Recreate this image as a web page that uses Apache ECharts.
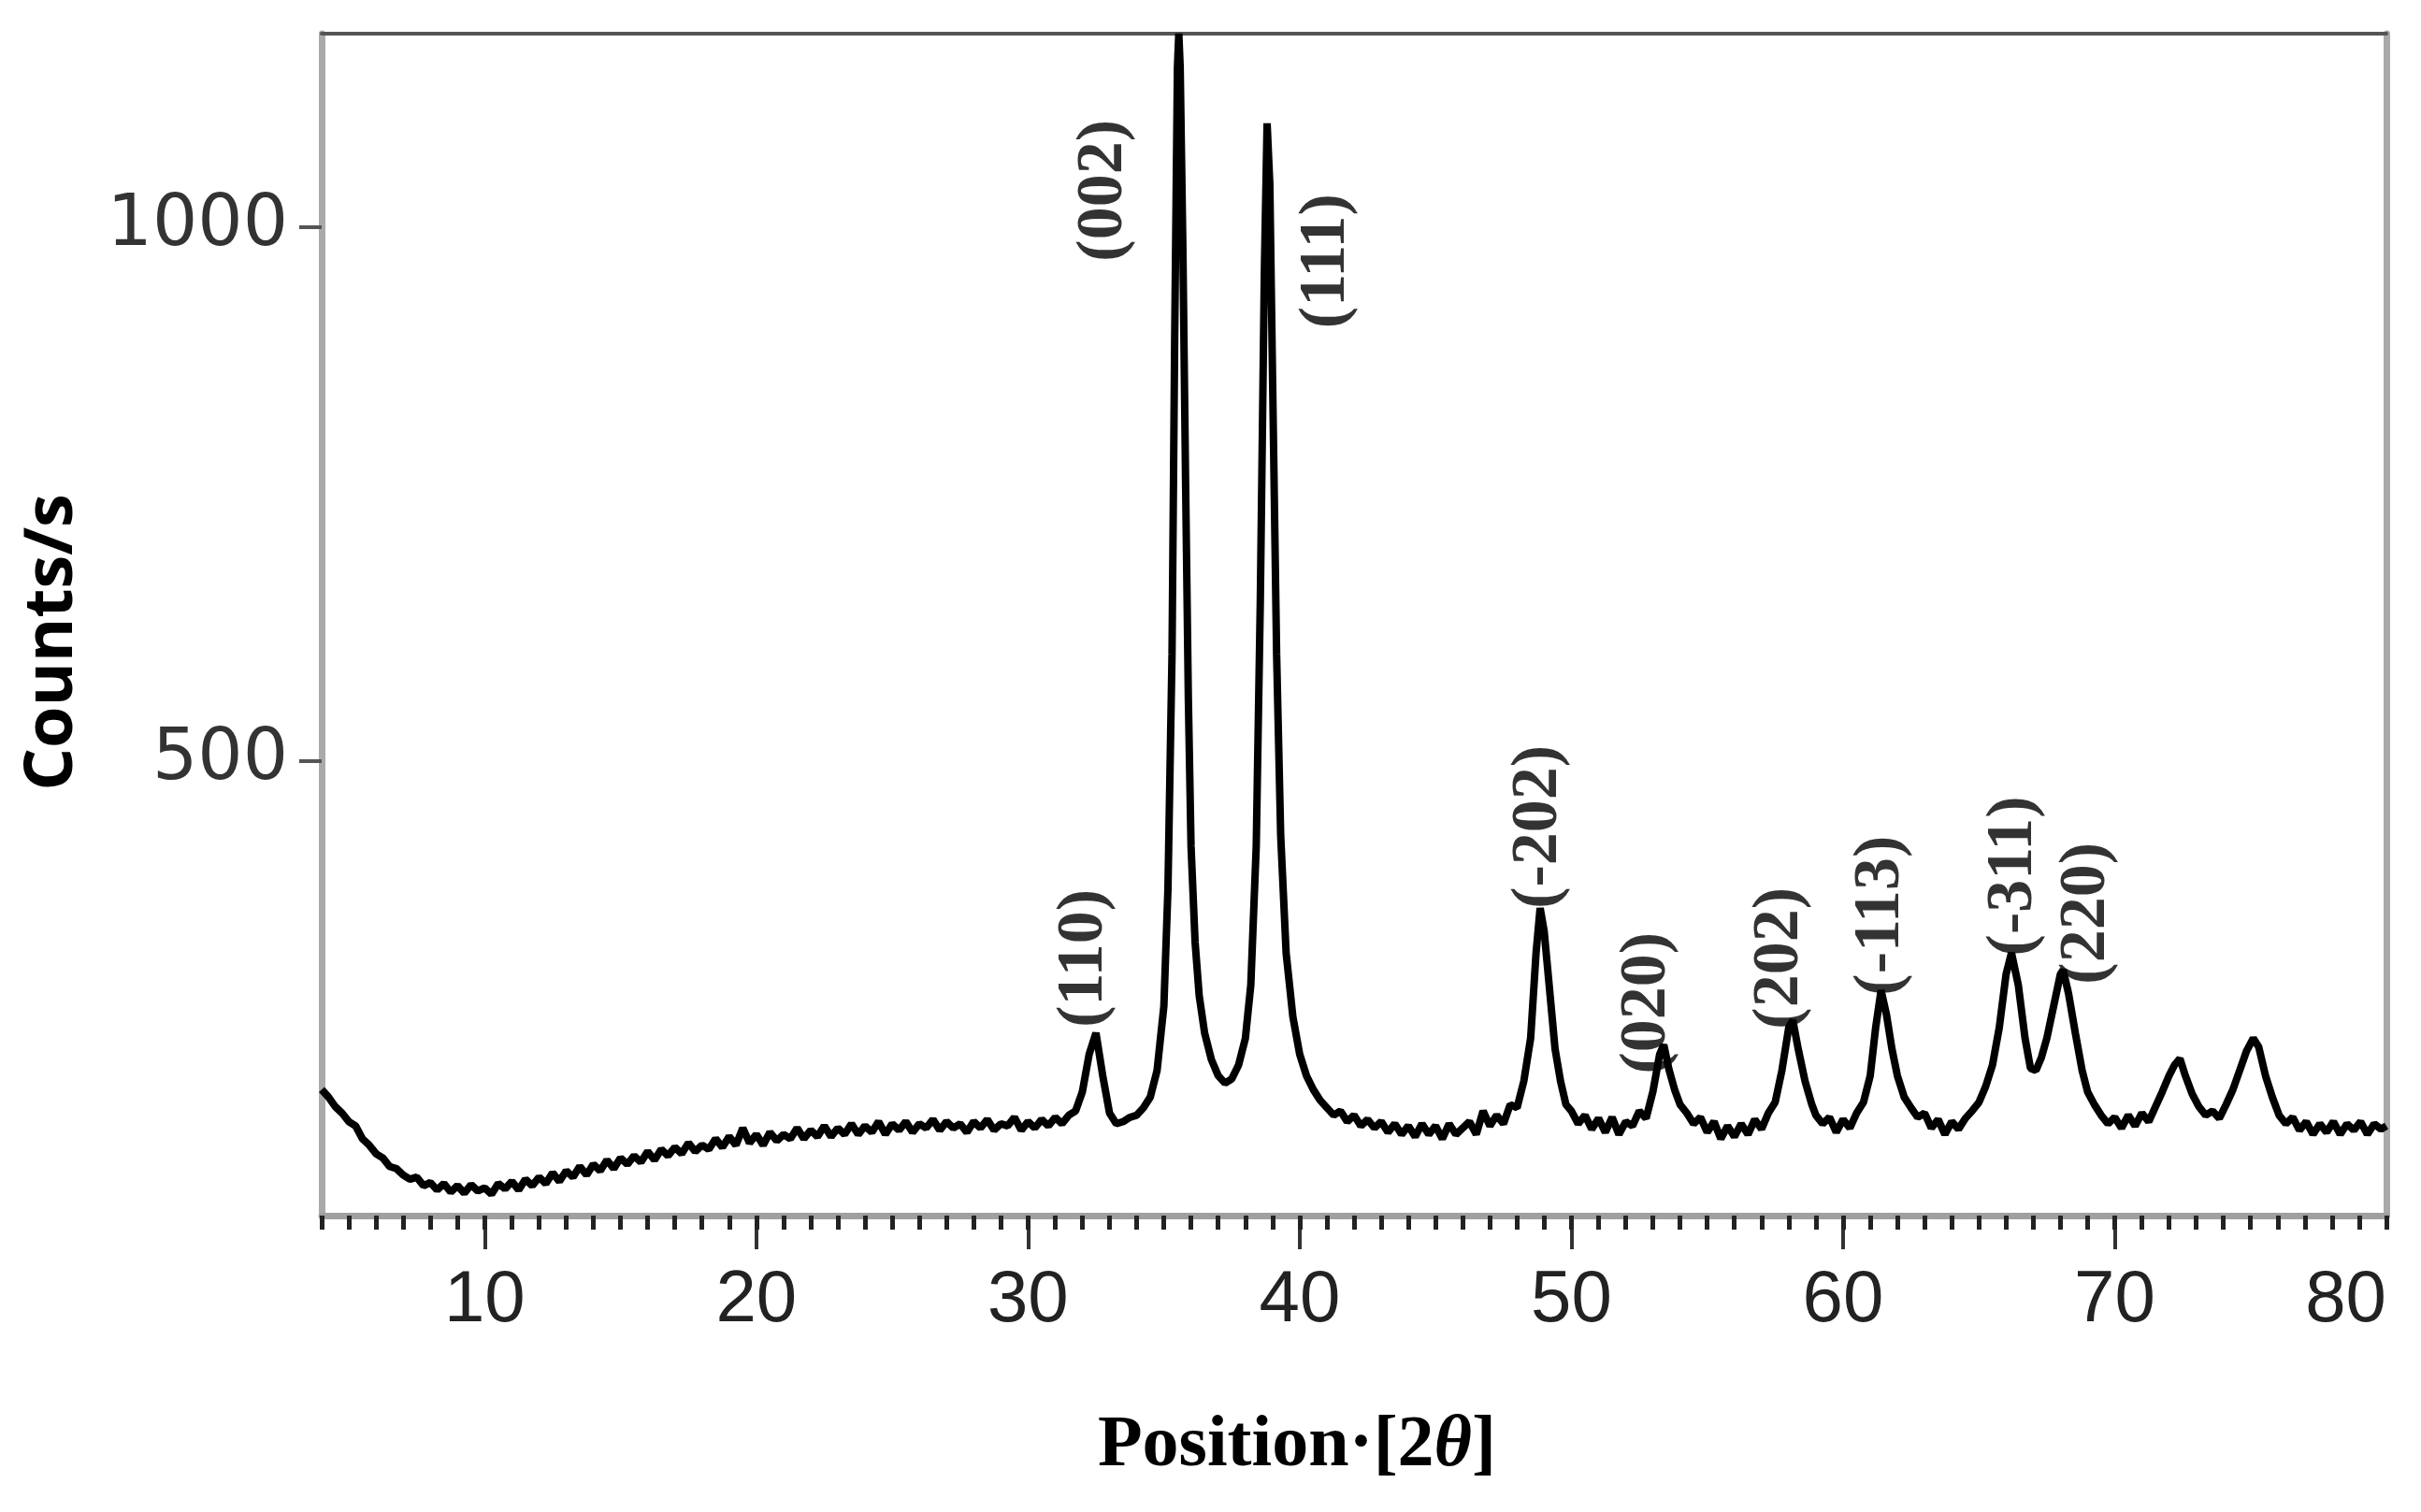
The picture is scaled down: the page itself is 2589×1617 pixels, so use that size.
<!DOCTYPE html>
<html><head><meta charset="utf-8">
<script src="https://cdn.jsdelivr.net/npm/echarts@6/dist/echarts.min.js"></script>
<style>html,body{margin:0;padding:0;background:#fff}#c{width:2589px;height:1617px}</style>
</head><body><div id="c"></div>
<script>
var xTicks = [10,20,30,40,50,60,70];
var xLabels = [10,20,30,40,50,60,70,80];
var yTicks = [500,1000];
var pattern = [
[4.00,192],[4.25,185],[4.5,176],[4.75,170],[5.0,162],[5.25,158],[5.5,146],[5.75,140],[6.0,132],[6.25,128],[6.5,120],[6.75,118],[7.0,112],[7.25,108],[7.5,110],[7.75,102],[8.0,105],[8.25,98],[8.5,104],[8.75,96],[9.0,102],[9.25,95],[9.5,103],[9.75,97],[10.0,100],[10.25,94],[10.5,104],[10.75,99],[11.0,106],[11.25,98],[11.5,108],[11.75,102],[12.0,110],[12.25,104],[12.5,114],[12.75,106],[13.0,116],[13.25,110],[13.5,120],[13.75,112],[14.0,122],[14.25,116],[14.5,126],[14.75,118],[15.0,128],[15.25,122],[15.5,130],[15.75,124],[16.0,134],[16.25,126],[16.5,136],[16.75,130],[17.0,138],[17.25,132],[17.5,142],[17.75,134],[18.0,140],[18.25,136],[18.5,146],[18.75,138],[19.0,148],[19.25,140],[19.5,156],[19.75,142],[20.0,150],[20.25,140],[20.5,152],[20.75,144],[21.0,150],[21.25,146],[21.5,156],[21.75,146],[22.0,154],[22.25,148],[22.5,158],[22.75,148],[23.0,156],[23.25,150],[23.5,160],[23.75,150],[24.0,158],[24.25,152],[24.5,162],[24.75,150],[25.0,160],[25.25,154],[25.5,162],[25.75,152],[26.0,160],[26.25,156],[26.5,164],[26.75,154],[27.0,162],[27.25,156],[27.5,160],[27.75,152],[28.0,162],[28.25,156],[28.5,164],[28.75,154],[29.0,160],[29.25,158],[29.5,166],[29.75,154],[30.0,162],[30.25,156],[30.5,164],[30.75,158],[31.0,166],[31.25,160],[31.5,168],[31.75,172],[32.0,190],[32.25,225],[32.5,245],[32.75,205],[33.0,170],[33.25,160],[33.5,162],[33.75,166],[34.0,168],[34.25,175],[34.5,185],[34.75,210],[35.0,270],[35.15,380],[35.3,600],[35.4,900],[35.5,1150],[35.55,1181],[35.6,1150],[35.7,980],[35.8,760],[35.9,560],[36.0,420],[36.15,330],[36.3,280],[36.5,245],[36.75,220],[37.0,205],[37.25,198],[37.5,202],[37.75,215],[38.0,240],[38.2,290],[38.4,420],[38.55,650],[38.7,960],[38.8,1097],[38.9,1040],[39.0,860],[39.15,600],[39.3,430],[39.5,320],[39.75,260],[40.0,225],[40.25,205],[40.5,192],[40.75,182],[41.0,175],[41.25,168],[41.5,172],[41.75,162],[42.0,168],[42.25,158],[42.5,164],[42.75,156],[43.0,162],[43.25,152],[43.5,160],[43.75,150],[44.0,158],[44.25,148],[44.5,160],[44.75,150],[45.0,158],[45.25,146],[45.5,160],[45.75,150],[46.0,156],[46.25,162],[46.5,150],[46.75,172],[47.0,158],[47.25,168],[47.5,160],[47.75,178],[48.0,175],[48.25,200],[48.5,240],[48.7,320],[48.85,362],[49.0,340],[49.2,285],[49.4,230],[49.6,200],[49.8,178],[50.0,172],[50.25,160],[50.5,168],[50.75,155],[51.0,165],[51.25,152],[51.5,166],[51.75,150],[52.0,162],[52.25,158],[52.5,172],[52.75,165],[53.0,190],[53.25,225],[53.4,234],[53.6,210],[53.8,192],[54.0,178],[54.25,170],[54.5,160],[54.75,166],[55.0,152],[55.25,162],[55.5,146],[55.75,158],[56.0,148],[56.25,160],[56.5,150],[56.75,164],[57.0,155],[57.25,170],[57.5,180],[57.75,210],[58.0,250],[58.15,257],[58.35,230],[58.6,200],[58.85,178],[59.0,168],[59.25,160],[59.5,166],[59.75,152],[60.0,164],[60.25,156],[60.5,170],[60.75,180],[61.0,205],[61.2,250],[61.4,285],[61.6,262],[61.8,230],[62.0,205],[62.25,185],[62.5,175],[62.75,166],[63.0,170],[63.25,156],[63.5,164],[63.75,150],[64.0,162],[64.25,155],[64.5,165],[64.75,172],[65.0,180],[65.25,195],[65.5,215],[65.75,250],[66.0,300],[66.2,320],[66.45,290],[66.7,240],[66.9,212],[67.1,210],[67.3,222],[67.5,240],[67.75,270],[68.0,300],[68.1,304],[68.3,282],[68.55,245],[68.8,210],[69.0,190],[69.25,178],[69.5,168],[69.75,160],[70.0,166],[70.25,156],[70.5,168],[70.75,158],[71.0,170],[71.25,162],[71.5,176],[71.75,190],[72.0,205],[72.2,215],[72.4,221],[72.6,205],[72.85,188],[73.1,176],[73.35,168],[73.6,172],[73.85,165],[74.1,178],[74.35,192],[74.6,210],[74.85,228],[75.1,240],[75.3,232],[75.55,205],[75.8,185],[76.05,168],[76.3,160],[76.55,166],[76.8,154],[77.05,162],[77.3,150],[77.55,160],[77.8,152],[78.05,162],[78.3,150],[78.55,160],[78.8,154],[79.05,162],[79.3,150],[79.55,160],[79.8,155],[80.0,158]
];
var peakNames = ['(002)','(111)','(110)','(-202)','(020)','(202)','(-113)','(-311)','(220)'];
var peakX = [32.8,41.0,32.1,48.8,52.8,57.7,61.4,66.3,69.0];
var peakY = [1034,968,315,438,273,315,355,392,357];

var chart = echarts.init(document.getElementById('c'));
chart.setOption({
  animation:false,
  backgroundColor:'#fff',
  grid:{left:344, right:37, top:36, bottom:317},
  xAxis:[
    {type:'value',min:4,max:80,position:'bottom',
     axisLine:{show:true,lineStyle:{color:'#a0a0a0',width:7}},
     axisTick:{show:true,customValues:xTicks,length:36,lineStyle:{color:'#333',width:4}},
     axisLabel:{show:true,customValues:xLabels,margin:52,fontSize:78,fontFamily:'Liberation Sans',color:'#222',alignMaxLabel:'right'},
     splitLine:{show:false}},
    {type:'value',min:4,max:80,interval:1,position:'bottom',
     axisLine:{show:false},
     axisTick:{show:true,length:15,lineStyle:{color:'#222',width:5}},
     axisLabel:{show:false},splitLine:{show:false}},
    {type:'value',min:4,max:80,position:'top',
     axisLine:{show:true,lineStyle:{color:'#555',width:4}},
     axisTick:{show:false},axisLabel:{show:false},splitLine:{show:false}}
  ],
  yAxis:[
    {type:'value',min:74,max:1181,position:'left',
     axisLine:{show:true,lineStyle:{color:'#aaa',width:7}},
     axisTick:{show:true,customValues:yTicks,length:24,lineStyle:{color:'#555',width:4}},
     axisLabel:{show:true,customValues:yTicks,margin:36,fontSize:76,fontFamily:'DejaVu Sans',color:'#333',
       formatter:function(v){return String(v);}},
     splitLine:{show:false}},
    {type:'value',min:74,max:1181,position:'right',
     axisLine:{show:true,lineStyle:{color:'#aaa',width:7}},
     axisTick:{show:false},axisLabel:{show:false},splitLine:{show:false}}
  ],
  series:[
    {type:'line',data:pattern,showSymbol:false,symbol:'none',clip:true,
     lineStyle:{color:'#000',width:8},z:3},
    {type:'scatter',data:peakX.map(function(x,i){return [x,peakY[i],peakNames[i]];}),
     symbolSize:0,z:5,
     label:{show:true,position:'inside',rotate:90,formatter:function(p){return p.data[2];},
       fontFamily:'Liberation Serif',fontWeight:'bold',fontSize:70,color:'#000'}}
  ],
  graphic:[
    {type:'text',x:56,y:687,rotation:Math.PI/2,
     style:{text:'Counts/s',font:'bold 72px "Open Sans"',fill:'#000',align:'center',verticalAlign:'middle'}},
    {type:'text',x:1387,y:1547,
     style:{text:'{a|Position·[2}{b|θ}{a|]}',align:'center',verticalAlign:'middle',
       rich:{a:{fontFamily:'Liberation Serif',fontWeight:'bold',fontSize:78,fill:'#000'},
             b:{fontFamily:'Liberation Serif',fontWeight:'bold',fontStyle:'italic',fontSize:78,fill:'#000'}}}}
  ]
});
</script></body></html>
